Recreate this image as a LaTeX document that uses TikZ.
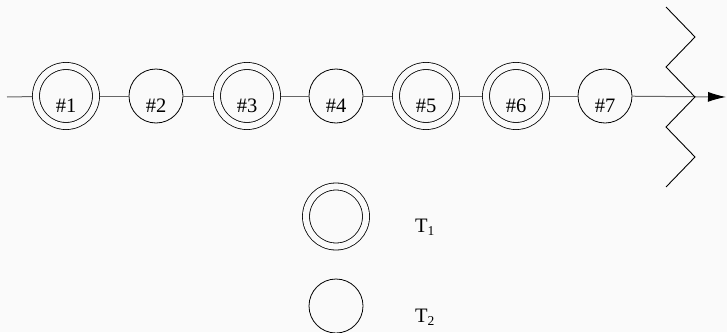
\documentclass[tikz,border=0pt]{standalone}
\usepackage{fontspec}
\setmainfont{Liberation Serif}
\usetikzlibrary{arrows.meta}
\definecolor{bg}{HTML}{FAFAFA}
\definecolor{wire}{HTML}{666666}
\newcommand{\subidx}[1]{\raisebox{-3.4pt}{\fontsize{13.5}{14}\selectfont #1}}
\tikzset{
  every node/.style={font=\fontsize{20.5}{24}\selectfont},
  single/.style={draw=black, line width=0.8pt, circle, minimum size=54pt,
    inner sep=0pt, outer sep=0.4pt, text height=32.6pt, text depth=0pt},
  twin/.style={draw=black, line width=0.8pt, circle, minimum size=60pt,
    inner sep=0pt, outer sep=3.9pt, double=bg, double distance=6.2pt,
    text height=32.6pt, text depth=0pt},
  wireline/.style={draw=wire, line width=1pt},
  zig/.style={draw=black, line width=0.9pt},
}
\begin{document}
\begin{tikzpicture}[x=1pt, y=-1pt]
  \fill[bg] (0,0) rectangle (727,332);
  \useasboundingbox (0,0) rectangle (727,332);

  % the chain of stations
  \coordinate (start) at (7,97);
  \node[twin]   (n1) at (66,96)  {\#1};
  \node[single] (n2) at (156,96) {\#2};
  \node[twin]   (n3) at (247,96) {\#3};
  \node[single] (n4) at (336,96) {\#4};
  \node[twin]   (n5) at (426,96) {\#5};
  \node[twin]   (n6) at (516,96) {\#6};
  \node[single] (n7) at (605,96) {\#7};
  \coordinate (finish) at (726,97);

  \draw[wireline] (start) -- (n1);
  \draw[wireline] (n1) -- (n2);
  \draw[wireline] (n2) -- (n3);
  \draw[wireline] (n3) -- (n4);
  \draw[wireline] (n4) -- (n5);
  \draw[wireline] (n5) -- (n6);
  \draw[wireline] (n6) -- (n7);
  \draw[wireline, -{Latex[length=18pt, width=10pt, color=black]}] (n7) -- (finish);

  % zigzag break line
  \draw[zig] (666,7) -- (695,37) -- (666,67) -- (695,97) -- (666,127) -- (695,157) -- (666,187);

  % legend
  \node[twin]   (k1) at (336,216.5) {};
  \node[single] (k2) at (336,306) {};
  \node[anchor=base west, inner sep=0pt] (t1) at (415,232.3) {T\subidx{1}};
  \node[anchor=base west, inner sep=0pt] (t2) at (415,322.3) {T\subidx{2}};
\end{tikzpicture}
\end{document}
